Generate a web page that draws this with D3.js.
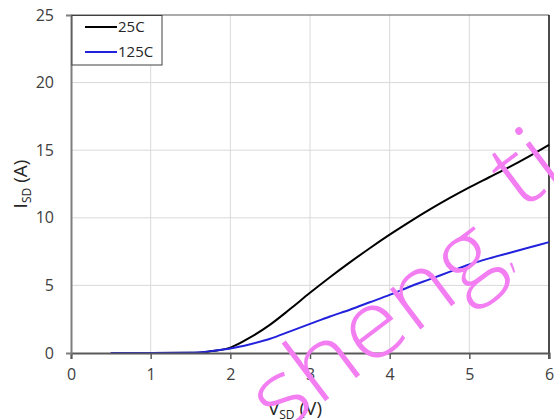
<!DOCTYPE html>
<html>
<head>
<meta charset="utf-8">
<script src="https://cdn.jsdelivr.net/npm/d3@7/dist/d3.min.js"></script>
<style>
body { margin: 0; background: #fff; }
svg { display: block; }
.tick text { font-family: "Open Sans", sans-serif; font-size: 16px; fill: #404040; }
.grid line { stroke: #d9d9d9; stroke-width: 1; }
.title { font-family: "Open Sans", sans-serif; font-size: 19px; fill: #262626; }
.legend text { font-family: "Liberation Sans Narrow", "Open Sans", sans-serif; font-size: 15px; fill: #262626; }
.curve { fill: none; stroke-width: 2; }
</style>
</head>
<body>
<div id="chart"></div>
<script>
var vsd    = [0.5, 1.0, 1.5, 1.7, 1.8, 2.0, 2.25, 2.5, 2.75, 3.0, 3.25, 3.5, 3.75, 4.0, 4.25, 4.5, 4.75, 5.0, 5.25, 5.5, 5.75, 6.0];
var i25    = [0, 0, 0.01, 0.08, 0.16, 0.4, 1.15, 2.1, 3.25, 4.45, 5.6, 6.7, 7.75, 8.75, 9.7, 10.6, 11.45, 12.25, 13.0, 13.75, 14.55, 15.4];
var i125   = [0, 0, 0.02, 0.1, 0.17, 0.33, 0.65, 1.05, 1.6, 2.15, 2.7, 3.2, 3.75, 4.3, 4.9, 5.45, 6.0, 6.55, 7.0, 7.4, 7.8, 8.2];
var xTicks = [0, 1, 2, 3, 4, 5, 6];
var yTicks = [0, 5, 10, 15, 20, 25];
var seriesNames = ["25C", "125C"];
var seriesColors = ["#000000", "#2222dd"];

var margin = {top: 15, right: 5, bottom: 67, left: 71},
    width  = 554 - margin.left - margin.right,
    height = 420 - margin.top - margin.bottom;

var x = d3.scaleLinear().domain([0, 6]).range([0, width]);
var y = d3.scaleLinear().domain([0, 25]).range([height, 0]);

var svg = d3.select("#chart").append("svg")
    .attr("width", 554)
    .attr("height", 420);

var g = svg.append("g")
    .attr("transform", "translate(" + margin.left + "," + margin.top + ")");

// grid
g.append("g").attr("class", "grid")
  .selectAll("line").data(xTicks.slice(1, -1)).enter().append("line")
    .attr("x1", d => x(d)).attr("x2", d => x(d))
    .attr("y1", 0).attr("y2", height);
g.append("g").attr("class", "grid")
  .selectAll("line").data(yTicks.slice(1, -1)).enter().append("line")
    .attr("x1", 0).attr("x2", width)
    .attr("y1", d => y(d)).attr("y2", d => y(d));

// top and right frame
g.append("line").attr("x1", 0).attr("x2", width).attr("y1", y(25)).attr("y2", y(25))
    .attr("stroke", "#595959").attr("stroke-width", 1);
g.append("line").attr("x1", x(6)).attr("x2", x(6)).attr("y1", 0).attr("y2", height + 6)
    .attr("stroke", "#111").attr("stroke-width", 1.5);

// curves
var line = d3.line().curve(d3.curveMonotoneX).x(d => x(d[0])).y(d => y(d[1]));
[i25, i125].forEach(function(s, k) {
  g.append("path")
      .datum(vsd.map((v, j) => [v, s[j]]))
      .attr("class", "curve")
      .attr("stroke", seriesColors[k])
      .attr("d", line);
});

// axes
var xAxis = g.append("g")
    .attr("transform", "translate(0," + height + ")")
    .call(d3.axisBottom(x).tickValues(xTicks).tickSize(6).tickPadding(10).tickFormat(d3.format("d")));
xAxis.select(".domain").attr("stroke", "#595959").attr("stroke-width", 2);
xAxis.selectAll(".tick line").attr("stroke", "#595959").attr("stroke-width", 1.5);

var yAxis = g.append("g")
    .call(d3.axisLeft(y).tickValues(yTicks).tickSize(5).tickPadding(12).tickFormat(d3.format("d")));
yAxis.select(".domain").attr("stroke", "#7f7f7f").attr("stroke-width", 2);
yAxis.selectAll(".tick line").attr("stroke", "#7f7f7f");
yAxis.selectAll(".tick").filter(d => d !== 0).select("line").attr("stroke", "none");

// titles
var xt = svg.append("text").attr("class", "title")
    .attr("x", 295).attr("y", 415).attr("text-anchor", "middle");
xt.append("tspan").text("V");
xt.append("tspan").attr("font-size", "12px").attr("dy", 4).text("SD");
xt.append("tspan").attr("dy", -4).text(" (V)");

var yt = svg.append("text").attr("class", "title")
    .attr("transform", "translate(27,184) rotate(-90)")
    .attr("text-anchor", "middle");
yt.append("tspan").text("I");
yt.append("tspan").attr("font-size", "12px").attr("dy", 4).text("SD");
yt.append("tspan").attr("dy", -4).text(" (A)");

// legend
var lg = svg.append("g").attr("class", "legend");
lg.append("rect").attr("x", 72).attr("y", 15.5).attr("width", 90).attr("height", 49.5)
    .attr("fill", "#fff").attr("stroke", "#404040").attr("stroke-width", 1);
seriesNames.forEach(function(n, k) {
  var yy = 27 + k * 25;
  lg.append("line").attr("x1", 85).attr("x2", 117).attr("y1", yy).attr("y2", yy)
      .attr("stroke", seriesColors[k]).attr("stroke-width", 2);
  lg.append("text").attr("x", 118).attr("y", yy + 5).text(n);
});

// watermark
var wm = svg.append("text")
    .attr("transform", "translate(279,436) rotate(-37) scale(1.1,1)")
    .attr("font-family", "Open Sans, sans-serif")
    .attr("font-weight", 300)
    .attr("font-size", 95)
    .attr("fill", "#f27ef2");
wm.append("tspan").text("sheng");
wm.append("tspan").attr("font-size", 40).attr("dy", 6).text(",");
wm.append("tspan").attr("dy", -40).attr("dx", 32).text("ti");
</script>
</body>
</html>
